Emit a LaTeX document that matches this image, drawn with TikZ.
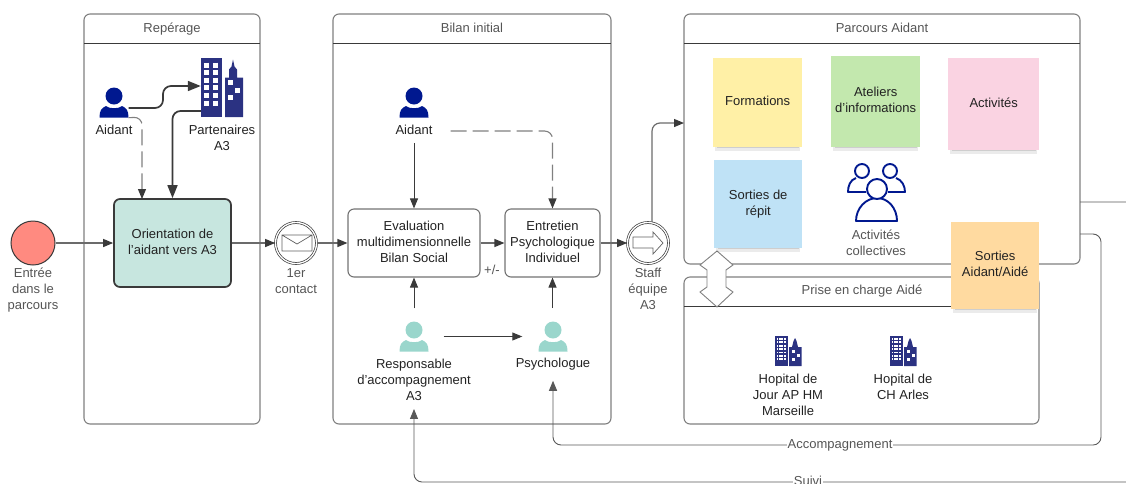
\documentclass[tikz,border=0pt]{standalone}
\usepackage{fontspec}
\setmainfont{Liberation Sans}
\usetikzlibrary{arrows.meta,shadows}
\definecolor{lanegray}{HTML}{808080}
\definecolor{flowdark}{HTML}{3A3A3A}
\definecolor{labelgray}{HTML}{555555}
\definecolor{textdark}{HTML}{222222}
\definecolor{aidantblue}{HTML}{00188F}
\definecolor{staffgreen}{HTML}{9AD6CC}
\definecolor{cityblue}{HTML}{2B3282}
\definecolor{startred}{HTML}{FF8A80}
\definecolor{taskgreen}{HTML}{C7E6DF}
\definecolor{noteyellow}{HTML}{FFF0A6}
\definecolor{notegreen}{HTML}{C3E8AE}
\definecolor{notepink}{HTML}{FAD3E2}
\definecolor{noteblue}{HTML}{BFE2F6}
\definecolor{noteorange}{HTML}{FFDAA0}
\newcommand{\liftline}[2]{\raisebox{#1}[\height][\depth]{#2}}
\tikzset{
	txt/.style={text=textdark,align=center,inner sep=0pt,font=\fontsize{13}{16}\selectfont},
	graytxt/.style={txt,text=labelgray},
	lanebox/.style={draw=lanegray,line width=1.1pt,rounded corners=6pt,anchor=north west,inner sep=0pt,outer sep=0pt},
	lanerule/.style={draw=flowdark,line width=.9pt},
	flow/.style={draw=flowdark!75,line width=1.2pt,-{Triangle[length=10pt,width=8pt,color=flowdark]}},
	thinflow/.style={draw=flowdark,line width=.9pt,-{Triangle[length=10pt,width=8pt]}},
	heavyflow/.style={draw=flowdark,line width=1.7pt,rounded corners=8pt,-{Triangle[length=13pt,width=10pt]}},
	dashflow/.style={draw=lanegray,line width=1.1pt,rounded corners=8pt,dash pattern=on 16pt off 6pt,-{Triangle[length=10pt,width=8pt,color=flowdark]}},
	retour/.style={draw=flowdark!85,line width=.9pt,rounded corners=8pt,-{Triangle[length=10pt,width=8pt]}},
	taskbox/.style={txt,draw=lanegray!90!black,fill=white,line width=1.1pt,rounded corners=6pt,minimum height=68pt},
	eventring/.style={circle,draw=flowdark,line width=.7pt,double=white,double distance=1.3pt,fill=white,minimum size=41pt,inner sep=0pt},
	iconbox/.style={minimum width=29pt,minimum height=30pt,inner sep=0pt},
	sticky/.style={txt,anchor=north west,minimum width=89pt,minimum height=89pt,
		drop shadow={shadow xshift=0pt,shadow yshift=-5.5pt,shadow scale=.96,opacity=.08,fill=black},
		drop shadow={shadow xshift=0pt,shadow yshift=-5pt,shadow scale=.92,opacity=.12,fill=black},
		drop shadow={shadow xshift=0pt,shadow yshift=-6pt,shadow scale=.88,opacity=.15,fill=black}},
	personicon/.pic={
		\fill[pic actions] (-14.5,15) .. controls (-14.5,8) and (-12.5,5.5) .. (-8,3.5) .. controls (-5,6.5) and (5,6.5) .. (8,3.5) .. controls (12.5,5.5) and (14.5,8) .. (14.5,15) -- cycle;
		\fill[pic actions] (0,-6.5) circle (8.5);
	},
	bigcity/.pic={
		\fill[cityblue] (-21,-29.5) rectangle (0,29.5);
		\draw[white,line width=5.5pt,dash pattern=on 5pt off 2.6pt] (-15.5,-25) -- (-15.5,20);
		\draw[white,line width=5.5pt,dash pattern=on 5pt off 2.6pt] (-6.5,-25) -- (-6.5,20);
		\fill[cityblue] (3,29.5) -- (3,-10) -- (7,-10) -- (7,-18) -- (9.5,-21) -- (11,-28) -- (12.5,-21) -- (15,-18) -- (15,-10) -- (21,-10) -- (21,29.5) -- cycle;
		\fill[white] (6,-8) rectangle (11,-3);
		\fill[white] (13,0) rectangle (18,5);
		\fill[white] (6,7) rectangle (11,12);
	},
	smallcity/.pic={
		\fill[cityblue] (-13.5,-15) rectangle (-0.5,15);
		\draw[white,line width=9pt,dash pattern=on 1.8pt off 1.6pt] (-7,-13) -- (-7,10);
		\draw[cityblue,line width=.8pt] (-9.5,-13) -- (-9.5,10) (-4.5,-13) -- (-4.5,10);
		\fill[cityblue] (1,15) -- (1,-4) -- (4,-4) -- (5.5,-10) -- (7,-13) -- (8.5,-10) -- (10,-4) -- (13.5,-4) -- (13.5,15) -- cycle;
		\fill[white] (4,-1) rectangle (7,1.5);
		\fill[white] (9,3) rectangle (12,5.5);
		\fill[white] (4,7) rectangle (7,9.5);
	}
}
\begin{document}
\begin{tikzpicture}[x=1pt,y=-1pt]
		\clip (0,0) rectangle (1126,483);
		%lanes
			\node[lanebox,minimum width=176pt,minimum height=410pt] (reperage) at (84,14) {};
			\node[lanebox,minimum width=278pt,minimum height=410pt] (bilan) at (333,14) {};
			\node[lanebox,minimum width=396pt,minimum height=250pt] (parcours) at (684,14) {};
			\node[lanebox,minimum width=355pt,minimum height=147pt] (priseencharge) at (684,277) {};
			\draw[lanerule] ([yshift=-29pt]reperage.north west) -- ([yshift=-29pt]reperage.north east);
			\draw[lanerule] ([yshift=-29pt]bilan.north west) -- ([yshift=-29pt]bilan.north east);
			\draw[lanerule] ([yshift=-29pt]parcours.north west) -- ([yshift=-29pt]parcours.north east);
			\draw[lanerule] ([yshift=-29pt]priseencharge.north west) -- ([yshift=-29pt]priseencharge.north east);
			\node[graytxt] (reperagetitle) at (172,29) {Repérage};
			\node[graytxt] (bilantitle) at (472,28) {Bilan initial};
			\node[graytxt] (parcourstitle) at (882,28) {Parcours Aidant};
			\node[graytxt] (prisetitle) at (862,291) {Prise en charge Aidé};
		%start + events
			\node[circle,draw=flowdark,line width=1pt,fill=startred,minimum size=44pt,inner sep=0pt] (entree) at (33,243) {};
			\node[graytxt] (entreelabel) at (33,290) {Entrée\\dans le\\parcours};
			\node[eventring] (contact) at (296,243) {};
			\node[graytxt] (contactlabel) at (296,281) {1er\\contact};
			\node[eventring] (staff) at (648,243) {};
			\node[graytxt] (stafflabel) at (648,289) {Staff\\équipe\\A3};
			\draw[flowdark!80,line width=.7pt] (282,235) rectangle (312,251) (282,235) -- (297,244) -- (312,235);
			\draw[flowdark!80,line width=.7pt] (633,237) -- (653,237) -- (653,232) -- (663,243) -- (653,254) -- (653,248) -- (633,248) -- cycle;
		%tasks
			\node[txt,draw=flowdark,line width=1.7pt,fill=taskgreen,rounded corners=6pt,minimum width=117pt,minimum height=88pt] (orientation) at (172.5,243) {\liftline{1pt}{Orientation de}\\\liftline{1pt}{l'aidant vers A3}};
			\node[taskbox,minimum width=132pt] (evaluation) at (414,243) {\liftline{1pt}{Evaluation}\\\liftline{1pt}{multidimensionnelle}\\\liftline{1pt}{Bilan Social}};
			\node[taskbox,minimum width=95pt] (entretien) at (552.5,243) {\liftline{1pt}{Entretien}\\\liftline{1pt}{Psychologique}\\\liftline{1pt}{Individuel}};
			\node[graytxt] (plusminus) at (492,270) {+/-};
		%people + buildings
			\node[iconbox] (aidantrep) at (114,102.5) {};
			\pic[fill=aidantblue] at (aidantrep) {personicon};
			\node[txt] (aidantreplabel) at (114,130) {Aidant};
			\node[minimum width=42pt,minimum height=59pt,inner sep=0pt] (partenaires) at (222,87.5) {};
			\pic at (partenaires) {bigcity};
			\node[txt] (partenaireslabel) at (222,138) {Partenaires\\A3};
			\node[iconbox] (aidantbil) at (414,102.5) {};
			\pic[fill=aidantblue] at (aidantbil) {personicon};
			\node[txt] (aidantbillabel) at (414,130) {Aidant};
			\node[iconbox] (responsable) at (414,336.5) {};
			\pic[fill=staffgreen] at (responsable) {personicon};
			\node[txt] (responsablelabel) at (414,380) {Responsable\\d'accompagnement\\A3};
			\node[iconbox] (psychologue) at (553,336.5) {};
			\pic[fill=staffgreen] at (psychologue) {personicon};
			\node[txt] (psychologuelabel) at (553,364.5) {Psychologue};
			\node[minimum width=27pt,minimum height=30pt,inner sep=0pt] (hopitalam) at (788,351) {};
			\pic at (hopitalam) {smallcity};
			\node[txt] (hopitalamlabel) at (788,395) {Hopital de\\Jour AP HM\\Marseille};
			\node[minimum width=27pt,minimum height=30pt,inner sep=0pt] (hopitalch) at (903,351) {};
			\pic at (hopitalch) {smallcity};
			\node[txt] (hopitalchlabel) at (903,387) {Hopital de\\CH Arles};
		%flows
			\draw[flow] (entree) -- (orientation);
			\draw[flow] (orientation) -- (contact);
			\draw[flow] (contact) -- (evaluation);
			\draw[flow] (evaluation) -- (entretien);
			\draw[flow] (entretien) -- (staff);
			\draw[flow,rounded corners=8pt] ([xshift=4pt]staff.north) -- (652,123) -- (parcours.west |- 0,123);
			\draw[heavyflow] (aidantrep.east |- 0,108) -- (163,108) -- (163,86) -- (partenaires.west |- 0,86);
			\draw[heavyflow] (partenaires.west |- 0,111) -- (orientation.north |- 0,111) -- (orientation.north);
			\draw[dashflow] (aidantrep.south east) -- (142,117) -- (142,199);
			\draw[thinflow] (aidantbillabel.south) ++(0,8) -- (evaluation.north);
			\draw[dashflow] (aidantbillabel.east) ++(18,1) -- (entretien.north |- 0,131) -- (entretien.north);
			\draw[thinflow] (responsable.north) ++(0,-13) -- (evaluation.south);
			\draw[thinflow] (entretien.south |- 0,308) -- (entretien.south);
			\draw[thinflow,shorten <=15pt,shorten >=16pt] (responsable.east) -- (psychologue.west);
		%loops back
			\draw[retour] (parcours.east |- 0,234) -- (1101,234) -- (1101,445) -- (553,445) -- ([yshift=-10pt]psychologuelabel.south);
			\draw[retour] (parcours.east |- 0,202) -- (1135,202) -- (1135,482) -- (414,482) -- ([yshift=-8pt]responsablelabel.south);
			\node[graytxt,fill=white,inner xsep=1pt] (accompagnement) at (840,445) {Accompagnement};
			\node[graytxt,fill=white,inner xsep=1pt] (suivi) at (808,481) {Suivi};
		%double arrow
			\draw[lanegray,fill=white,line width=.9pt] (717,251) -- (733,265) -- (726,270) -- (726,287) -- (733,292) -- (717,307) -- (700,292) -- (707,287) -- (707,270) -- (700,265) -- cycle;
		%notes
			\node[sticky,fill=noteyellow] (formations) at (713,58) {\liftline{2pt}{Formations}};
			\node[sticky,fill=notegreen,minimum height=91pt] (ateliers) at (831,56) {\liftline{1.5pt}{Ateliers}\\\liftline{1.5pt}{d'informations}};
			\node[sticky,fill=notepink,minimum width=91pt,minimum height=92pt] (activites) at (948,58) {\liftline{1.5pt}{Activités}};
			\node[sticky,fill=noteblue,minimum width=88pt,minimum height=88pt] (sortiesrepit) at (714,160) {Sorties de\\répit};
			\node[sticky,fill=noteorange,minimum width=88pt,minimum height=87pt] (sortiesaidant) at (951,222) {\liftline{2pt}{Sorties}\\\liftline{2pt}{Aidant/Aidé}};
		%group
			\begin{scope}[aidantblue,line width=1.9pt,line join=round]
				\draw (862,171) circle (7);
				\draw (890,171) circle (7);
				\draw (856,178) .. controls (850,180) and (848,186) .. (848,192) -- (866,192);
				\draw (896,178) .. controls (902,180) and (905,186) .. (905,192) -- (888,192);
				\draw[fill=white] (856,221) .. controls (856,208) and (866,198) .. (877,198) .. controls (888,198) and (897,208) .. (897,221) -- cycle;
				\draw[fill=white] (877,189) circle (10);
			\end{scope}
			\node[graytxt] (collectiveslabel) at (876,243) {Activités\\collectives};
	\end{tikzpicture}
\end{document}
